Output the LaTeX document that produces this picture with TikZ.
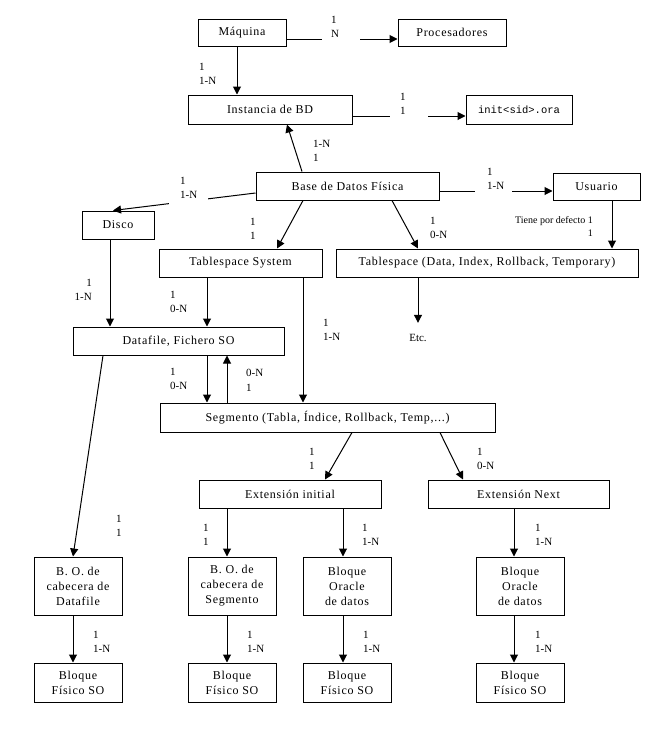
\documentclass[tikz,border=0pt]{standalone}
\usepackage{fontspec}
\setmainfont{Liberation Serif}[LetterSpace=6]
\newfontfamily\labfamily{Liberation Serif}
\newfontfamily\monofamily{Liberation Mono}
\usetikzlibrary{arrows.meta}
\newcommand\boxfont{\fontsize{12}{15}\selectfont}
\newcommand\labfont{\labfamily\fontsize{11}{14.5}\selectfont}
\tikzset{
  box/.style={draw, line width=1pt, inner sep=1pt, align=center, font=\boxfont},
  lab/.style={font=\labfont, inner sep=0pt, align=left, anchor=north west},
  arr/.style={line width=1pt, -{Triangle[width=8pt,length=8pt]}},
  brk/.style={fill=white, inner sep=0pt, minimum height=6pt, minimum width=#1}
}
\begin{document}
\begin{tikzpicture}[x=1pt,y=-1pt]
\fill[white] (0,0) rectangle (665,742);
\useasboundingbox (0,0) rectangle (665,742);
% boxes
\node[box, minimum width=88, minimum height=27] (maq) at (242,32.5) {Máquina};
\node[box, minimum width=108, minimum height=27] (proc) at (452,32.5) {Procesadores};
\node[box, minimum width=164, minimum height=29] (inst) at (270,109.5) {Instancia de BD};
\node[box, minimum width=106, minimum height=29, font=\monofamily\fontsize{10.5}{12}\selectfont] (init) at (519,109.5) {init<sid>.ora};
\node[box, minimum width=183, minimum height=28] (base) at (347.5,186) {Base de Datos Física};
\node[box, minimum width=87, minimum height=27] (usu) at (596.5,186.5) {Usuario};
\node[box, minimum width=72, minimum height=28] (disco) at (118,225) {Disco};
\node[box, minimum width=163, minimum height=28] (tss) at (240.5,263) {Tablespace System};
\node[box, minimum width=302, minimum height=28] (tsd) at (487,263) {Tablespace (Data, Index, Rollback, Temporary)};
\node[font=\labfont, inner sep=0pt, minimum height=30] (etc) at (418,338) {Etc.};
\node[box, minimum width=211, minimum height=28] (dataf) at (178.5,341) {Datafile, Fichero SO};
\node[box, minimum width=335, minimum height=29] (seg) at (327.5,417.5) {Segmento (Tabla, Índice, Rollback, Temp,...)};
\node[box, minimum width=182, minimum height=28] (exti) at (290,494) {Extensión initial};
\node[box, minimum width=181, minimum height=28] (extn) at (518.5,494) {Extensión Next};
\node[box, minimum width=88, minimum height=58] (bod) at (78,586) {B. O. de\\cabecera de\\Datafile};
\node[box, minimum width=88, minimum height=58] (bos) at (232,586) {B. O. de\\cabecera de\\Segmento};
\node[box, minimum width=88, minimum height=58] (boo1) at (347,586) {Bloque\\Oracle\\de datos};
\node[box, minimum width=88, minimum height=58] (boo2) at (520,586) {Bloque\\Oracle\\de datos};
\node[box, minimum width=88, minimum height=39] (bf1) at (78,682.5) {Bloque\\Físico SO};
\node[box, minimum width=88, minimum height=39] (bf2) at (232,682.5) {Bloque\\Físico SO};
\node[box, minimum width=88, minimum height=39] (bf3) at (347,682.5) {Bloque\\Físico SO};
\node[box, minimum width=88, minimum height=39] (bf4) at (520,682.5) {Bloque\\Físico SO};
% connectors
\draw[arr] ([yshift=-6.5pt]maq.east) -- node[brk=38, pos=0.49]{} ([yshift=-6.5pt]proc.west);
\draw[arr] ([xshift=-5pt]maq.south) -- ([xshift=-33pt]inst.north);
\draw[arr] ([yshift=-6.5pt]inst.east) -- node[brk=38]{} ([yshift=-6.5pt]init.west);
\draw[arr] ([xshift=-45.5pt]base.north) -- ([xshift=17pt]inst.south);
\draw[arr] ([yshift=-7pt]base.west) -- node[brk=39, pos=0.47, minimum height=9pt]{} ([xshift=-5pt]disco.north);
\draw[arr] ([yshift=-5pt]base.east) -- node[brk=37, pos=0.48]{} ([yshift=-4.5pt]usu.west);
\draw[arr] ([xshift=-44.5pt]base.south) -- ([xshift=36.5pt]tss.north);
\draw[arr] ([xshift=44.5pt]base.south) -- ([xshift=-69pt]tsd.north);
\draw[arr] ([xshift=15.5pt]usu.south) -- ([xshift=125pt]tsd.north);
\draw[arr] ([xshift=-8pt]disco.south) -- ([xshift=-68.5pt]dataf.north);
\draw[arr] ([xshift=-33.5pt]tss.south) -- ([xshift=28.5pt]dataf.north);
\draw[arr] ([xshift=62.5pt]tss.south) -- ([xshift=-24.5pt]seg.north);
\draw[arr] ([xshift=-69pt]tsd.south) -- (etc.north);
\draw[arr] ([xshift=28.5pt]dataf.south) -- ([xshift=-120.5pt]seg.north);
\draw[arr] ([xshift=-100.5pt]seg.north) -- ([xshift=48.5pt]dataf.south);
\draw[arr] ([xshift=-75.5pt]dataf.south) -- ([xshift=-5pt]bod.north);
\draw[arr] ([xshift=24.5pt]seg.south) -- ([xshift=35pt]exti.north);
\draw[arr] ([xshift=112.5pt]seg.south) -- ([xshift=-55.5pt]extn.north);
\draw[arr] ([xshift=-63pt]exti.south) -- ([xshift=-5pt]bos.north);
\draw[arr] ([xshift=53pt]exti.south) -- ([xshift=-4pt]boo1.north);
\draw[arr] ([xshift=-4.5pt]extn.south) -- ([xshift=-6pt]boo2.north);
\draw[arr] ([xshift=-5pt]bod.south) -- ([xshift=-5pt]bf1.north);
\draw[arr] ([xshift=-5pt]bos.south) -- ([xshift=-5pt]bf2.north);
\draw[arr] ([xshift=-4pt]boo1.south) -- ([xshift=-4pt]bf3.north);
\draw[arr] ([xshift=-6pt]boo2.south) -- ([xshift=-6pt]bf4.north);
% labels
\node[lab] (l1) at (331,16) {1\\N};
\node[lab] (l2) at (199,63) {1\\1-N};
\node[lab] (l3) at (400,93) {1\\1};
\node[lab] (l4) at (313,140) {1-N\\1};
\node[lab] (l5) at (180,177) {1\\1-N};
\node[lab] (l6) at (487,168) {1\\1-N};
\node[lab] (l7) at (250,218) {1\\1};
\node[lab] (l8) at (430,217) {1\\0-N};
\node[lab, anchor=north east, align=right, font=\labfamily\fontsize{10}{13}\selectfont] (l9) at (593,216) {Tiene por defecto 1\\1};
\node[lab, anchor=north east, align=right] (l10) at (92,279) {1\\1-N};
\node[lab] (l11) at (170,291) {1\\0-N};
\node[lab] (l12) at (323,319) {1\\1-N};
\node[lab] (l13) at (170,368) {1\\0-N};
\node[lab] (l14) at (246,369) {0-N\\1};
\node[lab] (l15) at (309,448) {1\\1};
\node[lab] (l16) at (477,448) {1\\0-N};
\node[lab] (l17) at (116,515) {1\\1};
\node[lab] (l18) at (203,524) {1\\1};
\node[lab] (l19) at (362,524) {1\\1-N};
\node[lab] (l20) at (535,524) {1\\1-N};
\node[lab] (l21) at (93,631) {1\\1-N};
\node[lab] (l22) at (247,631) {1\\1-N};
\node[lab] (l23) at (363,631) {1\\1-N};
\node[lab] (l24) at (535,631) {1\\1-N};
\end{tikzpicture}
\end{document}
